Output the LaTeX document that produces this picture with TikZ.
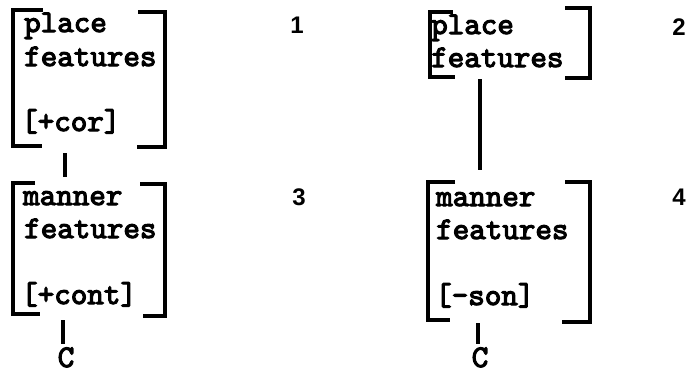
\documentclass[tikz,border=0pt]{standalone}
\usepackage{fontspec}
\newfontfamily\numfont{Liberation Sans}
\newfontfamily\twfont{lmmono10-regular}[Extension=.otf, FakeBold=3.5]
\begin{document}
\begin{tikzpicture}[x=1pt,y=-1pt,
  tw/.style={font=\fontsize{31.5}{33}\selectfont\twfont\bfseries, inner sep=0pt, anchor=base west},
  num/.style={font=\fontsize{24}{26}\selectfont\numfont\bfseries, inner sep=0pt, anchor=base},
  brk/.style={line width=3.2pt, line join=miter, line cap=butt},
  conn/.style={line width=3.2pt, line cap=butt}]
\fill[white] (0,0) rectangle (688,373);
\useasboundingbox (0,0) rectangle (688,373);

% block 1
\node[tw] (a1) at (24,32) {place};
\node[tw] (a2) at (24,66) {features};
\node[tw] (a3) at (21,131) {[+cor]};
\draw[brk] (43,10) -- (13,10) -- (13,146) -- (42,146);
\draw[brk] (138,12) -- (165,12) -- (165,147) -- (137,147);
\node[num] (n1) at (297,33) {1};

% block 2
\node[tw] (b1) at (431,34) {place};
\node[tw] (b2) at (431,67) {features};
\draw[brk] (453,12) -- (430,12) -- (430,77) -- (455,77);
\draw[brk] (565,8) -- (590,8) -- (590,78) -- (565,78);
\node[num] (n2) at (679,35) {2};

% block 3
\node[tw] (c1) at (23,205) {manner};
\node[tw] (c2) at (24,238) {features};
\node[tw] (c3) at (21,304) {[+cont]};
\draw[brk] (35,183) -- (13,183) -- (13,314) -- (40,314);
\draw[brk] (140,184) -- (165,184) -- (165,316) -- (143,316);
\node[num] (n3) at (299,205) {3};

% block 4
\node[tw] (d1) at (436,206) {manner};
\node[tw] (d2) at (436,239) {features};
\node[tw] (d3) at (435,305) {[-son]};
\draw[brk] (455,182) -- (428,182) -- (428,320) -- (450,320);
\draw[brk] (565,182) -- (590,182) -- (590,322) -- (562,322);
\node[num] (n4) at (679,205) {4};

% C nodes
\node[tw, anchor=base] (C3) at (66,367) {C};
\node[tw, anchor=base] (C4) at (480,367) {C};

% connectors
\coordinate (k13a) at (65,153);
\coordinate (k13b) at (65,177);
\coordinate (k24a) at (480,79);
\coordinate (k24b) at (480,170);
\coordinate (k3) at (63,320);
\coordinate (k4) at (478,323);
\draw[conn] (k13a) -- (k13b);
\draw[conn] (k24a) -- (k24b);
\draw[conn, shorten >=3pt] (k3) -- (C3.north -| k3);
\draw[conn, shorten >=3pt] (k4) -- (C4.north -| k4);
\end{tikzpicture}
\end{document}
